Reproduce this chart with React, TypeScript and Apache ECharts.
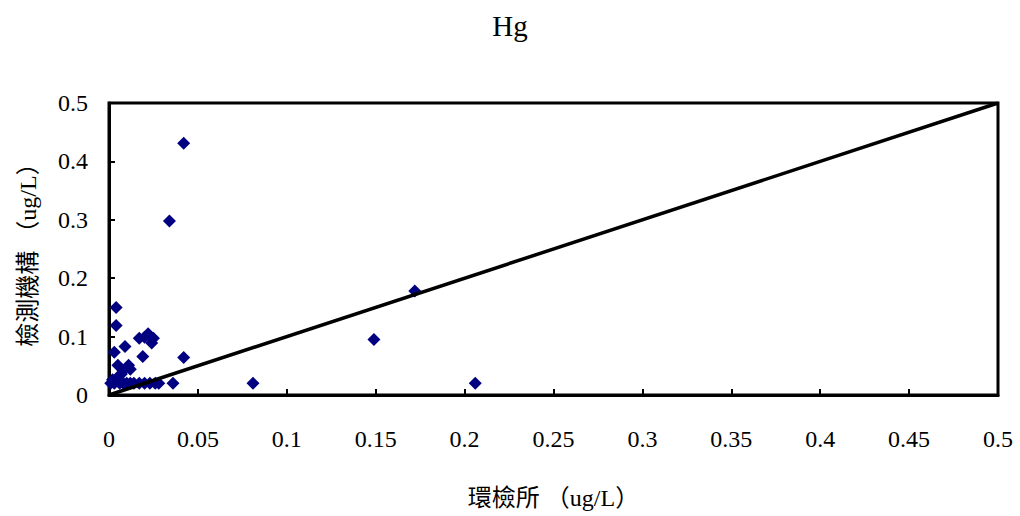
import React, { useEffect, useRef } from "react";
import * as echarts from "echarts";

const titleText = "Hg";
const xAxisName = "環檢所 （ug/L）";
const yAxisName = "檢測機構 （ug/L）";

const xValues = [
  0.042, 0.034, 0.172, 0.149, 0.206, 0.081, 0.042, 0.036, 0.004, 0.004,
  0.009, 0.003, 0.017, 0.020, 0.022, 0.025, 0.024, 0.019, 0.005, 0.011,
  0.012, 0.008, 0.002, 0.001, 0.003, 0.006, 0.008, 0.010, 0.012, 0.014,
  0.017, 0.020, 0.023, 0.026, 0.028, 0.005, 0.007,
];
const yValues = [
  0.431, 0.298, 0.178, 0.095, 0.020, 0.020, 0.064, 0.020, 0.150, 0.119,
  0.083, 0.073, 0.097, 0.099, 0.105, 0.097, 0.089, 0.066, 0.051, 0.051,
  0.044, 0.042, 0.026, 0.020, 0.020, 0.020, 0.020, 0.020, 0.020, 0.020,
  0.020, 0.020, 0.020, 0.020, 0.020, 0.031, 0.036,
];
const refLine = [
  [0, 0],
  [0.5, 0.5],
];

const serif = "Liberation Serif, Noto Sans CJK TC, serif";

export default function App() {
  const ref = useRef<HTMLDivElement>(null);
  useEffect(() => {
    if (!ref.current) return;
    const chart = echarts.init(ref.current, null, { renderer: "svg" });
    const points = xValues.map((x, i) => [x, yValues[i]]);
    chart.setOption({
      animation: false,
      backgroundColor: "#ffffff",
      title: {
        text: titleText,
        left: "center",
        top: 6,
        textStyle: { fontFamily: serif, fontSize: 29, fontWeight: "normal", color: "#000" },
      },
      grid: {
        left: 109,
        right: 22,
        top: 103,
        bottom: 121,
        show: true,
        borderColor: "#000",
        borderWidth: 3,
        containLabel: false,
      },
      xAxis: {
        type: "value",
        min: 0,
        max: 0.5,
        interval: 0.05,
        name: xAxisName,
        nameLocation: "middle",
        nameGap: 91,
        nameTextStyle: { fontFamily: serif, fontSize: 24, color: "#000" },
        axisLine: { show: true, lineStyle: { color: "#000", width: 3 } },
        axisTick: { show: true, inside: true, length: 6, lineStyle: { color: "#000", width: 2 } },
        axisLabel: { fontFamily: serif, fontSize: 24, color: "#000", margin: 32 },
        splitLine: { show: false },
      },
      yAxis: {
        type: "value",
        min: 0,
        max: 0.5,
        interval: 0.1,
        name: yAxisName,
        nameLocation: "middle",
        nameGap: 69,
        nameRotate: 90,
        nameTextStyle: { fontFamily: serif, fontSize: 24, color: "#000" },
        axisLine: { show: true, lineStyle: { color: "#000", width: 3 } },
        axisTick: { show: true, inside: true, length: 6, lineStyle: { color: "#000", width: 2 } },
        axisLabel: { fontFamily: serif, fontSize: 24, color: "#000", margin: 21 },
        splitLine: { show: false },
      },
      series: [
        {
          type: "scatter",
          data: points,
          symbol: "diamond",
          symbolSize: 13,
          itemStyle: { color: "#000080", opacity: 1 },
          z: 2,
        },
        {
          type: "line",
          data: refLine,
          symbol: "none",
          lineStyle: { color: "#000", width: 3.5 },
          z: 3,
        },
      ],
    });
    return () => chart.dispose();
  }, []);
  return <div ref={ref} style={{ width: 1020, height: 516, position: "absolute", left: 0, top: 0 }} />;
}
